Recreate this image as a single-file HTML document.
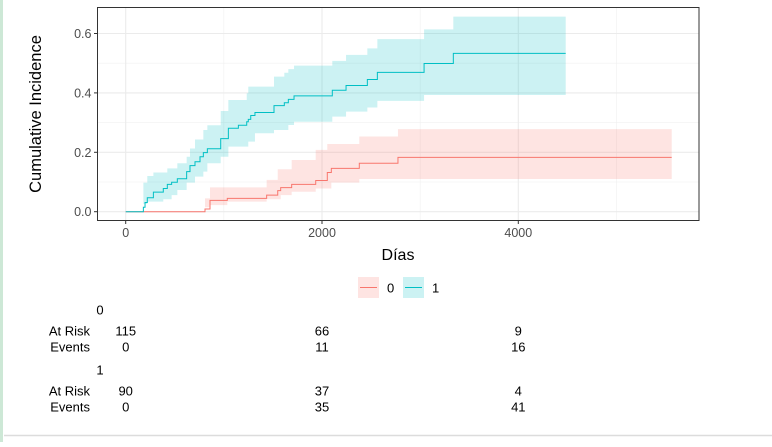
<!DOCTYPE html>
<html><head><meta charset="utf-8">
<style>
body{margin:0;width:772px;height:442px;overflow:hidden;background:#fff;font-family:"Liberation Sans",Arial,sans-serif;}
svg text{font-family:"Liberation Sans",Arial,sans-serif;}
</style></head>
<body>
<svg id="chart" width="772" height="442">
<rect x="0" y="0" width="3" height="442" fill="#cde8d6"/>
<line x1="4" y1="435.5" x2="772" y2="435.5" stroke="#dcdcdc" stroke-width="1.5"/>
<g id="grid"></g>
<g id="bands"></g>
<g id="lines"></g>
<rect x="97.5" y="7.5" width="601.5" height="213" fill="none" stroke="#333" stroke-width="1"/>
<g id="axes"></g>
<text x="41" y="114" transform="rotate(-90 41 114)" text-anchor="middle" font-size="16.5" fill="#000">Cumulative Incidence</text>
<text x="398" y="260" text-anchor="middle" font-size="16" fill="#000">Días</text>
<g>
<rect x="358" y="277" width="21" height="21" fill="#f8766d" fill-opacity="0.2"/>
<line x1="360" y1="287.5" x2="377" y2="287.5" stroke="#f8766d"/>
<text x="387" y="292.5" font-size="13">0</text>
<rect x="403" y="277" width="21" height="21" fill="#00bfc4" fill-opacity="0.2"/>
<line x1="405" y1="287.5" x2="422" y2="287.5" stroke="#00bfc4"/>
<text x="432" y="292.5" font-size="13">1</text>
</g>
<g id="table"></g>
</svg>
<script>
const xTicks=[0,2000,4000];
const yTicks=[0,0.2,0.4,0.6];
const t0=[0,808,859,1035,1436,1549,1579,1691,1936,2054,2095,2380,2774,5563];
const est0=[0,0.009,0.038,0.045,0.056,0.071,0.081,0.092,0.105,0.132,0.146,0.163,0.183,0.183];
const lo0=[0,0,0.015,0.022,0.034,0.042,0.042,0.056,0.067,0.078,0.078,0.098,0.110,0.110];
const hi0=[0,0.045,0.082,0.082,0.107,0.143,0.143,0.174,0.208,0.228,0.228,0.253,0.278,0.278];
const t1=[0,180,197,220,282,383,424,468,526,621,655,706,757,791,832,968,1046,1148,1233,1249,1274,1317,1511,1616,1657,1715,2105,2245,2462,2564,3040,3338,4483];
const est1=[0,0.015,0.031,0.047,0.066,0.078,0.092,0.099,0.111,0.135,0.155,0.168,0.185,0.199,0.212,0.246,0.281,0.291,0.303,0.311,0.324,0.334,0.357,0.367,0.378,0.390,0.409,0.425,0.445,0.469,0.499,0.533,0.533];
const lo1=[0,0,0.026,0.026,0.034,0.034,0.042,0.042,0.056,0.073,0.098,0.098,0.118,0.118,0.135,0.163,0.185,0.219,0.219,0.219,0.236,0.236,0.264,0.275,0.275,0.292,0.303,0.320,0.337,0.351,0.373,0.393,0.393];
const hi1=[0,0.098,0.098,0.120,0.132,0.132,0.146,0.146,0.163,0.185,0.213,0.243,0.243,0.275,0.291,0.339,0.376,0.376,0.399,0.421,0.421,0.421,0.455,0.468,0.480,0.492,0.508,0.528,0.550,0.581,0.614,0.657,0.657];
const riskTimes=[0,2000,4000];
const atRisk0=[115,66,9], events0=[0,11,16];
const atRisk1=[90,37,4], events1=[0,35,41];

const X=d=>125.7+d*0.09815;
const Y=v=>211.7-v*297;
const NS='http://www.w3.org/2000/svg';
function mk(tag,attrs,parent){const e=document.createElementNS(NS,tag);for(const k in attrs)e.setAttribute(k,attrs[k]);parent.appendChild(e);return e;}
const grid=document.getElementById('grid'),axes=document.getElementById('axes');
mk('rect',{x:97.5,y:7.5,width:601.5,height:213,fill:'#fff'},grid);
[1000,3000,5000].forEach(d=>{const l=mk('line',{x1:X(d),x2:X(d),y1:7.5,y2:220.5,stroke:'#f0f0f0','stroke-width':0.6},grid);

});
[0.1,0.3,0.5].forEach(v=>{const l=mk('line',{x1:97.5,x2:699,y1:Y(v),y2:Y(v),stroke:'#f0f0f0','stroke-width':0.6},grid);

});
xTicks.forEach(d=>{const l=mk('line',{x1:X(d),x2:X(d),y1:7.5,y2:220.5,stroke:'#ebebeb','stroke-width':1.1},grid);


const tk=mk('line',{x1:X(d),x2:X(d),y1:220.5,y2:224,stroke:'#333'},axes);


const t=mk('text',{x:X(d),y:237,'text-anchor':'middle','font-size':12.5,fill:'#4d4d4d'},axes);t.textContent=d;

});
yTicks.forEach(v=>{const l=mk('line',{x1:97.5,x2:699,y1:Y(v),y2:Y(v),stroke:'#ebebeb','stroke-width':1.1},grid);


const tk=mk('line',{x1:94,x2:97.5,y1:Y(v),y2:Y(v),stroke:'#333'},axes);


const t=mk('text',{x:91.5,y:Y(v)+4.5,'text-anchor':'end','font-size':12.5,fill:'#4d4d4d'},axes);t.textContent=v.toFixed(1);

});
function stepPath(t,v){let p='M'+X(t[0])+','+Y(v[0]);for(let i=1;i<t.length;i++){p+='H'+X(t[i])+'V'+Y(v[i]);}return p;}
function band(t,lo,hi){let p='M'+X(t[0])+','+Y(hi[0]);for(let i=1;i<t.length;i++)p+='H'+X(t[i])+'V'+Y(hi[i]);
for(let i=t.length-1;i>0;i--)p+='V'+Y(lo[i])+'H'+X(t[i-1]);p+='V'+Y(lo[0])+'Z';return p;}
const bands=document.getElementById('bands'),lines=document.getElementById('lines');
const b0=mk('path',{d:band(t0,lo0,hi0),fill:'#f8766d','fill-opacity':0.2},bands);


const b1=mk('path',{d:band(t1,lo1,hi1),fill:'#00bfc4','fill-opacity':0.2},bands);


const l0=mk('path',{d:stepPath(t0,est0),fill:'none',stroke:'#f8766d','stroke-width':1},lines);


const l1=mk('path',{d:stepPath(t1,est1),fill:'none',stroke:'#00bfc4','stroke-width':1},lines);


const tb=document.getElementById('table');
function txt(x,y,s,anchor,name){const t=mk('text',{x:x,y:y,'text-anchor':anchor,'font-size':13,fill:'#000'},tb);t.textContent=s;

}
[[0,310,atRisk0,events0],[1,370,atRisk1,events1]].forEach(([g,y,ar,ev])=>{
txt(100,y+4.5,String(g),'middle','table-group-header');
txt(90,y+25.5,'At Risk','end','at-risk-label');
txt(90,y+41.5,'Events','end','events-label');
riskTimes.forEach((d,i)=>{txt(X(d),y+25.5,String(ar[i]),'middle','at-risk-value');txt(X(d),y+41.5,String(ev[i]),'middle','events-value');});
});
</script>
</body></html>
